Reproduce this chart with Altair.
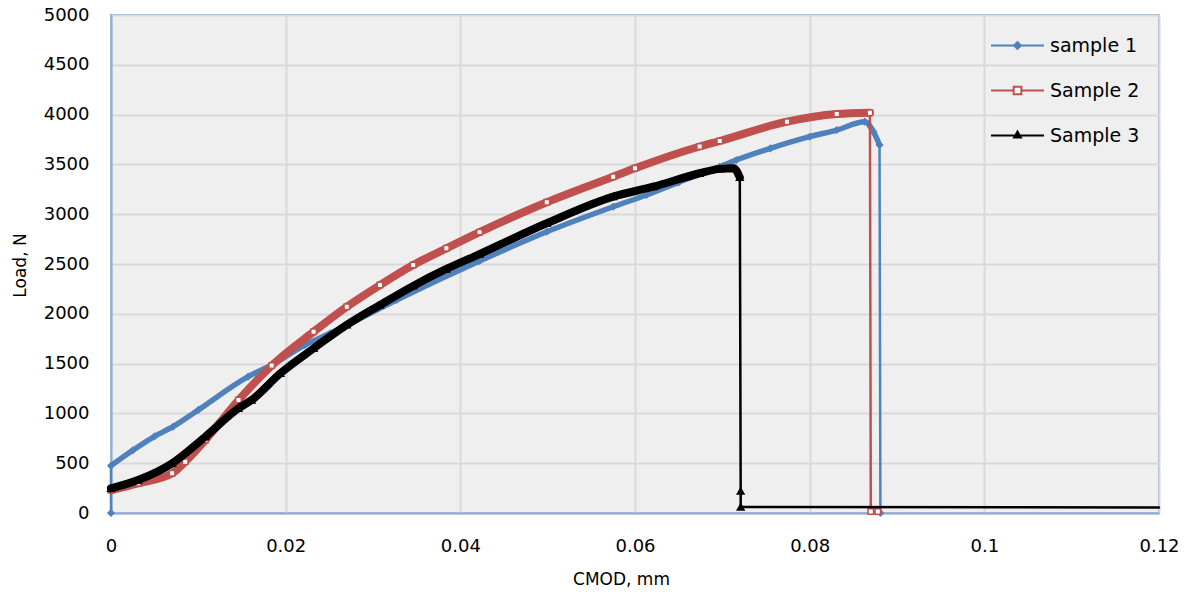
import altair as alt
import pandas as pd

series_names = ["sample 1", "Sample 2", "Sample 3"]
series_colors = ["#4F81BD", "#C0504D", "#000000"]

# CMOD (mm) and Load (N)
s1_cmod = [0, 0, 0.0025, 0.005, 0.0071, 0.01, 0.0157, 0.0184, 0.0222, 0.0251, 0.0327,
           0.0422, 0.0499, 0.0575, 0.0613, 0.065, 0.0697, 0.0716, 0.0755, 0.08, 0.0831,
           0.0863, 0.0873, 0.088, 0.0881]
s1_load = [0, 475, 630, 770, 866, 1035, 1369, 1486, 1687, 1804, 2139,
           2530, 2824, 3075, 3193, 3320, 3477, 3544, 3661, 3778, 3845,
           3929, 3828, 3695, 0]

s2_cmod = [0, 0.0031, 0.007, 0.0085, 0.0108, 0.0146, 0.0184, 0.0232, 0.027, 0.0308,
           0.0346, 0.0384, 0.0422, 0.0499, 0.0575, 0.06, 0.0674, 0.0697, 0.0774, 0.0831,
           0.0869, 0.087, 0.0878]
s2_load = [231, 298, 398, 515, 733, 1134, 1480, 1820, 2071, 2289,
           2490, 2657, 2820, 3120, 3377, 3461, 3680, 3735, 3929, 4006,
           4019, 15, 15]

s3_cmod = [0, 0.0031, 0.007, 0.0108, 0.0146, 0.0161, 0.0194, 0.0232, 0.027, 0.0308,
           0.0346, 0.0384, 0.0422, 0.0499, 0.0575, 0.0621, 0.0674, 0.0697, 0.0713, 0.072,
           0.0721, 0.0721, 0.12]
s3_load = [248, 331, 499, 766, 1051, 1134, 1403, 1653, 1888, 2088,
           2280, 2450, 2600, 2909, 3176, 3276, 3411, 3455, 3461, 3370,
           220, 60, 55]

# index range of the densely-sampled (thick) part of each curve
band_first = [1, 0, 0]
band_last = [23, 20, 19]
marker_last = [24, 22, 21]

x_ticks = [0, 0.02, 0.04, 0.06, 0.08, 0.1, 0.12]
y_ticks = [0, 500, 1000, 1500, 2000, 2500, 3000, 3500, 4000, 4500, 5000]

rows = []
for k, (name, xs, ys) in enumerate(zip(series_names, [s1_cmod, s2_cmod, s3_cmod],
                                       [s1_load, s2_load, s3_load])):
    for i, (xv, yv) in enumerate(zip(xs, ys)):
        rows.append({"series": name, "cmod": xv, "load": yv, "idx": i,
                     "band": band_first[k] <= i <= band_last[k],
                     "marker": i <= marker_last[k]})
df = pd.DataFrame(rows)
legend_df = pd.DataFrame({"series": series_names})

FONT = "DejaVu Sans"

x_enc = alt.X("cmod:Q", scale=alt.Scale(domain=[0, 0.12], nice=False),
              axis=alt.Axis(values=x_ticks, labelExpr="format(datum.value, '.2~f')",
                            labelFlush=False, labelOverlap=False, title="CMOD, mm",
                            titleX=510, titleY=66, titleBaseline="middle"))
y_enc = alt.Y("load:Q", scale=alt.Scale(domain=[0, 5000], nice=False),
              axis=alt.Axis(values=y_ticks, format="d", title="Load, N",
                            labelFlush=False, labelOverlap=False,
                            titleX=-91, titleY=250, titleAngle=-90,
                            titleAlign="center", titleBaseline="middle"))

legend_paths = [
    "M-1.18,0L1.18,0M0,-0.15L0.15,0L0,0.15L-0.15,0Z",
    "M-1.18,0L-0.17,0M0.17,0L1.18,0M-0.17,-0.17L0.17,-0.17L0.17,0.17L-0.17,0.17Z",
    "M-1.18,0L1.18,0M0,-0.18L0.15,0.09L-0.15,0.09Z",
]
legend_fill = ["#4F81BD", "#ffffff", "#000000"]

legend = alt.Legend(
    title=None, orient="none", legendX=883, legendY=7,
    symbolSize=2025, symbolStrokeWidth=2, rowPadding=11, labelOffset=9,
    labelFont=FONT, labelFontSize=19, labelColor="#000000", symbolOpacity=1,
)

marker_shapes = ["diamond", "square", "triangle-up"]
marker_size = [36, 30, 45]
thick_w = [5.5, 8, 8]

base = alt.Chart(df)
layers = []
for k, name in enumerate(series_names):
    sub = base.transform_filter(alt.datum.series == name)
    col = series_colors[k]
    layers.append(sub.mark_line(color=col, strokeWidth=2.5, strokeJoin="round",
                                strokeCap="round").encode(
        x=x_enc, y=y_enc, order=alt.Order("idx:Q")))
    layers.append(sub.transform_filter(alt.datum.band).mark_line(
        color=col, strokeWidth=thick_w[k], strokeJoin="round", strokeCap="round",
        interpolate="monotone").encode(
        x=x_enc, y=y_enc, order=alt.Order("idx:Q")))
    layers.append(sub.transform_filter(alt.datum.marker).mark_point(
        shape=marker_shapes[k], filled=False, fill=legend_fill[k], fillOpacity=1,
        stroke=col, strokeWidth=1.5, opacity=1, size=marker_size[k]).encode(
        x=x_enc, y=y_enc))

# legend-only layer (drawn outside the clipped plot area)
legend_layer = alt.Chart(legend_df).mark_point(
    filled=False, clip=True, size=2025, strokeWidth=2, opacity=1, fillOpacity=1
).encode(
    x=alt.value(-3000), y=alt.value(-3000),
    color=alt.Color("series:N", scale=alt.Scale(domain=series_names, range=series_colors),
                    legend=legend),
    fill=alt.Fill("series:N", scale=alt.Scale(domain=series_names, range=legend_fill),
                  legend=legend),
    shape=alt.Shape("series:N", scale=alt.Scale(domain=series_names, range=legend_paths),
                    legend=legend),
)
layers.append(legend_layer)

chart = alt.layer(*layers).properties(
    width=1048, height=498,
    autosize=alt.AutoSizeParams(type="none"),
    padding={"left": 111, "top": 15, "right": 28, "bottom": 83},
).configure_view(
    fill="#efefef", stroke="#8eaad6", strokeWidth=2,
).configure_axis(
    labelFont=FONT, labelFontSize=18, labelColor="#000000",
    titleFont=FONT, titleFontSize=17, titleFontWeight="normal", titleColor="#000000",
    grid=True, gridColor="#d9d9d9", gridWidth=2,
    domain=True, domainColor="#8eaad6", domainWidth=2,
    ticks=False,
).configure_axisX(labelPadding=24).configure_axisY(labelPadding=22)

chart.save("out.html", embed_options={"renderer": "svg", "actions": False})
